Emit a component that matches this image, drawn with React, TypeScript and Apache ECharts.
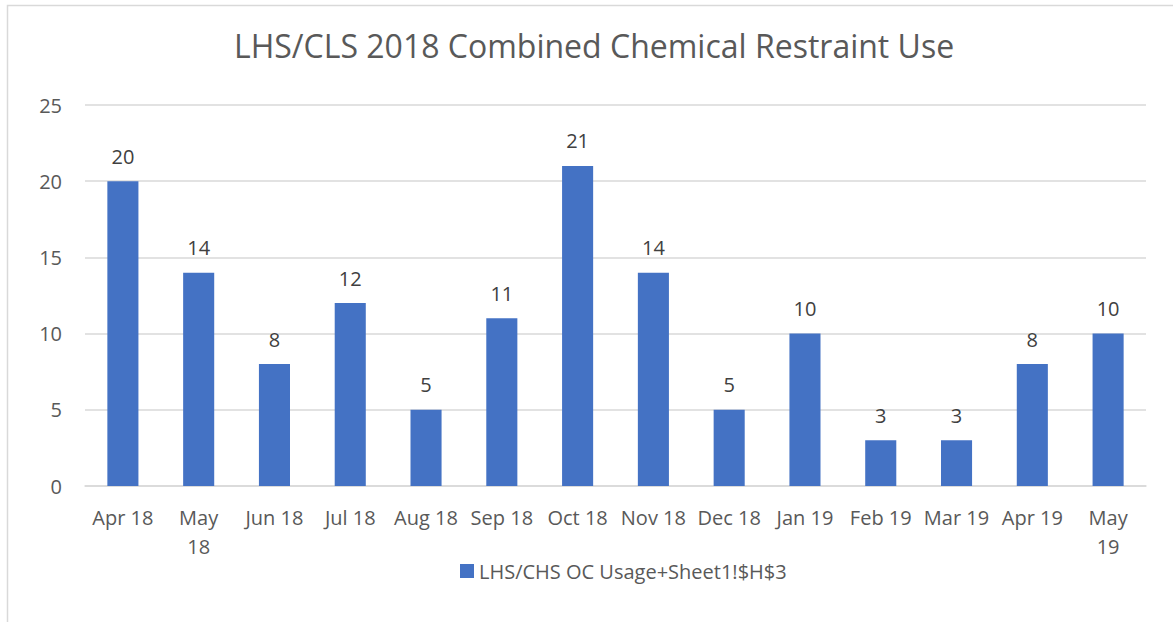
import React, { useEffect, useRef } from "react";
import * as echarts from "echarts";

const categories = ["Apr 18", "May 18", "Jun 18", "Jul 18", "Aug 18", "Sep 18", "Oct 18", "Nov 18", "Dec 18", "Jan 19", "Feb 19", "Mar 19", "Apr 19", "May 19"];
const usage = [20, 14, 8, 12, 5, 11, 21, 14, 5, 10, 3, 3, 8, 10];
const seriesName = "LHS/CHS OC Usage+Sheet1!$H$3";
const titleText = "LHS/CLS 2018 Combined Chemical Restraint Use";

const FONT = "'Open Sans', sans-serif";
const TEXT = "#595959";

export default function App() {
  const ref = useRef<HTMLDivElement>(null);
  useEffect(() => {
    document.body.style.margin = "0";
    const chart = echarts.init(ref.current!, null, { renderer: "svg" });
    chart.setOption({
      animation: false,
      backgroundColor: "#ffffff",
      textStyle: { fontFamily: FONT, color: TEXT },
      title: {
        text: titleText,
        left: 229,
        top: 24,
        textStyle: { fontFamily: FONT, fontSize: 32, fontWeight: "normal", color: TEXT },
      },
      graphic: [
        {
          type: "rect",
          shape: { x: 7.5, y: 5.5, width: 1200, height: 700 },
          style: { fill: "none", stroke: "#d9d9d9", lineWidth: 1.5 },
          silent: true,
        },
      ],
      grid: { left: 85, right: 27, top: 105, bottom: 136, containLabel: false },
      legend: {
        data: [seriesName],
        top: 556,
        left: 455,
        itemWidth: 14,
        itemHeight: 14,
        icon: "rect",
        itemGap: 6,
        textStyle: { fontFamily: FONT, fontSize: 20, color: TEXT },
      },
      xAxis: {
        type: "category",
        data: categories,
        axisLine: { lineStyle: { color: "#d9d9d9", width: 1.5 } },
        axisTick: { show: false },
        axisLabel: {
          fontFamily: FONT,
          fontSize: 20,
          color: TEXT,
          margin: 17,
          lineHeight: 29,
          interval: 0,
          formatter: (v: string) => (v.startsWith("May") ? v.replace(" ", "\n") : v),
        },
      },
      yAxis: {
        type: "value",
        min: 0,
        max: 25,
        interval: 5,
        axisLine: { show: false },
        axisTick: { show: false },
        splitLine: { lineStyle: { color: "#d9d9d9", width: 1.5 } },
        axisLabel: { fontFamily: FONT, fontSize: 20, color: TEXT, margin: 23 },
      },
      series: [
        {
          name: seriesName,
          type: "bar",
          data: usage,
          barWidth: "41%",
          itemStyle: { color: "#4472C4" },
          label: {
            show: true,
            position: "top",
            distance: 15,
            fontFamily: FONT,
            fontSize: 20,
            color: "#404040",
          },
        },
      ],
    });
    return () => chart.dispose();
  }, []);
  return <div ref={ref} style={{ width: 1173, height: 622 }} />;
}
